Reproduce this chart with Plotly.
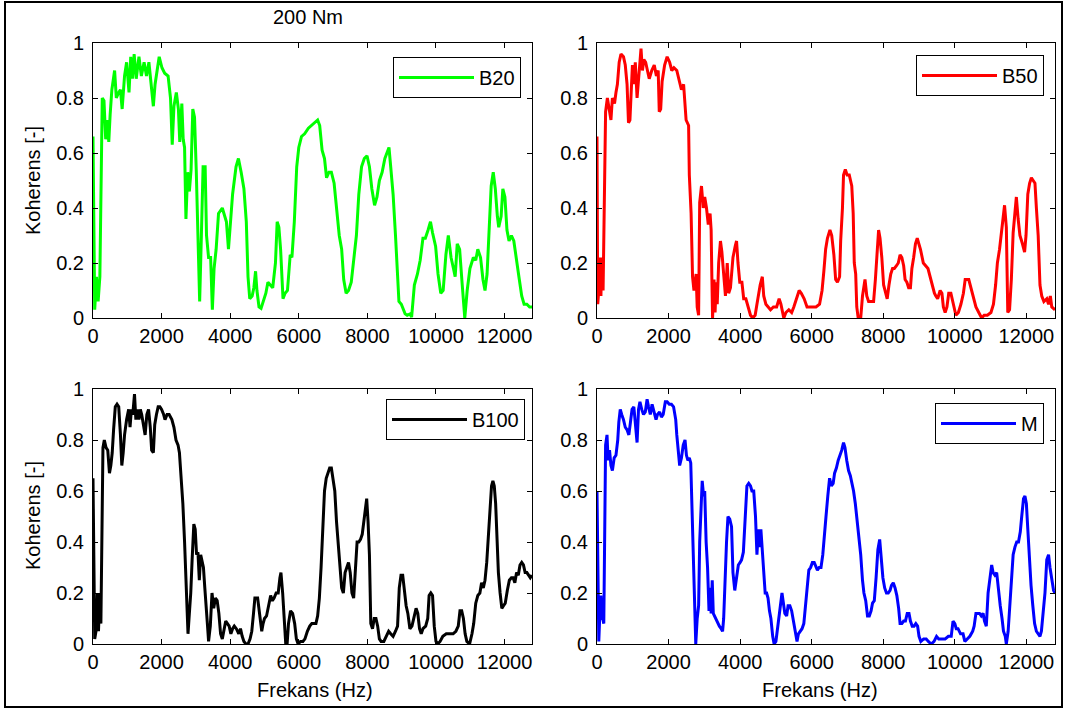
import plotly.graph_objects as go

# ---------------- data (frequency in Hz, coherence [-]) ----------------
f_b20 = [0, 20, 50, 100, 150, 200, 230, 270, 320, 370, 420, 460, 500, 550, 630, 680, 750, 800, 850, 920,
         980, 1050, 1100, 1150, 1200, 1260, 1340, 1410, 1490, 1560, 1630, 1710, 1760, 1810, 1860, 1930, 2010,
         2090, 2190, 2260, 2310, 2360, 2430, 2490, 2530, 2590, 2630, 2670, 2710, 2760, 2810, 2860, 2910, 2960,
         3010, 3060, 3110, 3160, 3210, 3270, 3310, 3370, 3430, 3480, 3530, 3590, 3660, 3770, 3820, 3890, 3950,
         4000, 4070, 4170, 4240, 4320, 4400, 4470, 4520, 4570, 4640, 4690, 4740, 4780, 4840, 4900, 4970, 5040,
         5100, 5170, 5240, 5320, 5370, 5420, 5470, 5540, 5600, 5670, 5750, 5800, 5870, 5940, 6000, 6080, 6170,
         6280, 6380, 6480, 6550, 6610, 6680, 6750, 6810, 6880, 6950, 7030, 7110, 7180, 7250, 7310, 7380, 7450,
         7530, 7610, 7680, 7750, 7830, 7910, 7990, 8060, 8130, 8210, 8280, 8350, 8430, 8510, 8580, 8630, 8680,
         8750, 8820, 8870, 8920, 8990, 9040, 9100, 9160, 9240, 9290, 9370, 9460, 9540, 9620, 9690, 9770, 9840,
         9900, 9990, 10060, 10140, 10210, 10290, 10360, 10440, 10510, 10560, 10620, 10690, 10760, 10840, 10910,
         10990, 11090, 11160, 11220, 11300, 11370, 11430, 11490, 11550, 11610, 11670, 11730, 11790, 11830, 11900,
         11950, 12010, 12070, 12130, 12200, 12270, 12350, 12430, 12500, 12570, 12650, 12730, 12800]
k_b20 = [0.66, 0.30, 0.03, 0.15, 0.06, 0.15, 0.50, 0.80, 0.79, 0.65, 0.72, 0.64, 0.74, 0.83, 0.90, 0.80, 0.82,
         0.83, 0.76, 0.88, 0.93, 0.82, 0.95, 0.87, 0.96, 0.87, 0.95, 0.88, 0.93, 0.88, 0.93, 0.82, 0.77, 0.85,
         0.90, 0.95, 0.91, 0.89, 0.88, 0.80, 0.63, 0.77, 0.82, 0.76, 0.64, 0.78, 0.65, 0.62, 0.36, 0.53, 0.46,
         0.54, 0.76, 0.73, 0.54, 0.25, 0.06, 0.30, 0.55, 0.55, 0.30, 0.22, 0.22, 0.03, 0.18, 0.25, 0.38, 0.40,
         0.38, 0.35, 0.25, 0.35, 0.45, 0.55, 0.58, 0.53, 0.47, 0.35, 0.15, 0.07, 0.08, 0.11, 0.17, 0.10, 0.04,
         0.035, 0.06, 0.09, 0.13, 0.12, 0.11, 0.20, 0.35, 0.33, 0.25, 0.07, 0.09, 0.10, 0.23, 0.22, 0.35, 0.55,
         0.62, 0.66, 0.67, 0.69, 0.70, 0.71, 0.72, 0.70, 0.61, 0.58, 0.51, 0.53, 0.53, 0.49, 0.40, 0.30, 0.25,
         0.14, 0.09, 0.10, 0.13, 0.22, 0.30, 0.45, 0.55, 0.58, 0.59, 0.55, 0.47, 0.41, 0.44, 0.50, 0.53, 0.58,
         0.60, 0.62, 0.55, 0.45, 0.30, 0.16, 0.06, 0.05, 0.03, 0.015, 0.01, 0.015, 0.003, 0.12, 0.16, 0.21, 0.29,
         0.29, 0.32, 0.35, 0.31, 0.26, 0.16, 0.09, 0.10, 0.23, 0.30, 0.22, 0.18, 0.15, 0.27, 0.25, 0.13, 0.0,
         0.10, 0.18, 0.22, 0.21, 0.25, 0.22, 0.14, 0.10, 0.16, 0.35, 0.48, 0.53, 0.47, 0.37, 0.33, 0.37, 0.47,
         0.44, 0.32, 0.28, 0.30, 0.28, 0.20, 0.14, 0.08, 0.05, 0.05, 0.04, 0.04]

f_b50 = [0, 20, 50, 80, 110, 130, 170, 200, 240, 290, 350, 390, 430, 490, 530, 570, 620, 670, 740, 790, 840,
         880, 920, 960, 990, 1030, 1070, 1120, 1160, 1200, 1230, 1270, 1310, 1360, 1410, 1460, 1530, 1600, 1660,
         1710, 1740, 1780, 1820, 1890, 1960, 2030, 2090, 2150, 2230, 2300, 2360, 2420, 2490, 2560, 2580, 2630,
         2670, 2710, 2770, 2800, 2840, 2870, 2920, 2970, 3010, 3060, 3110, 3160, 3190, 3210, 3230, 3270, 3300,
         3330, 3360, 3400, 3450, 3490, 3540, 3590, 3640, 3680, 3730, 3800, 3860, 3900, 3940, 3990, 4050, 4100,
         4160, 4230, 4290, 4350, 4420, 4470, 4520, 4560, 4620, 4660, 4720, 4790, 4850, 4930, 5020, 5090, 5140,
         5220, 5280, 5360, 5440, 5500, 5580, 5650, 5710, 5790, 5870, 5930, 6030, 6120, 6220, 6290, 6340, 6390,
         6440, 6510, 6560, 6620, 6670, 6720, 6780, 6810, 6860, 6890, 6940, 6990, 7050, 7120, 7160, 7190, 7230,
         7260, 7300, 7370, 7420, 7460, 7490, 7540, 7590, 7660, 7730, 7780, 7830, 7870, 7910, 7960, 8010, 8060,
         8110, 8160, 8210, 8260, 8310, 8370, 8420, 8470, 8520, 8570, 8610, 8660, 8710, 8760, 8800, 8850, 8900,
         8950, 9000, 9040, 9120, 9190, 9250, 9310, 9380, 9430, 9470, 9520, 9590, 9640, 9680, 9730, 9780, 9830,
         9890, 9930, 9980, 10030, 10100, 10170, 10240, 10290, 10390, 10450, 10530, 10590, 10670, 10750, 10820,
         10910, 11010, 11080, 11140, 11190, 11250, 11300, 11340, 11390, 11440, 11480, 11530, 11580, 11630, 11680,
         11720, 11770, 11820, 11890, 11950, 11990, 12040, 12090, 12140, 12190, 12240, 12280, 12330, 12380, 12430,
         12490, 12570, 12620, 12670, 12710, 12800]
k_b50 = [0.66, 0.05, 0.10, 0.22, 0.08, 0.22, 0.10, 0.45, 0.75, 0.80, 0.75, 0.72, 0.80, 0.78, 0.82, 0.85, 0.93,
         0.96, 0.95, 0.92, 0.85, 0.71, 0.72, 0.85, 0.92, 0.85, 0.93, 0.80, 0.88, 0.95, 0.98, 0.90, 0.94, 0.93,
         0.90, 0.87, 0.90, 0.92, 0.88, 0.90, 0.75, 0.76, 0.86, 0.92, 0.95, 0.93, 0.90, 0.91, 0.90, 0.86, 0.83,
         0.85, 0.72, 0.70, 0.52, 0.38, 0.15, 0.10, 0.16, 0.04, 0.01, 0.42, 0.48, 0.40, 0.44, 0.40, 0.34, 0.38,
         0.32, 0.15, 0.0, 0.14, 0.02, 0.13, 0.05, 0.20, 0.28, 0.24, 0.15, 0.08, 0.20, 0.09, 0.11, 0.22, 0.26,
         0.28, 0.20, 0.13, 0.13, 0.07, 0.07, 0.04, 0.01, 0.0, 0.01, 0.05, 0.10, 0.12, 0.15, 0.08, 0.05, 0.04,
         0.03, 0.04, 0.04, 0.07, 0.05, 0.0, 0.02, 0.03, 0.02, 0.04, 0.07, 0.10, 0.09, 0.07, 0.04, 0.04, 0.04,
         0.04, 0.05, 0.10, 0.17, 0.25, 0.29, 0.32, 0.30, 0.23, 0.14, 0.13, 0.15, 0.28, 0.40, 0.52, 0.54, 0.52,
         0.52, 0.48, 0.38, 0.20, 0.16, 0.04, 0.0, 0.0, 0.08, 0.12, 0.14, 0.08, 0.06, 0.06, 0.06, 0.14, 0.23,
         0.32, 0.29, 0.22, 0.12, 0.09, 0.07, 0.12, 0.16, 0.18, 0.18, 0.19, 0.20, 0.23, 0.22, 0.19, 0.14, 0.13,
         0.11, 0.11, 0.18, 0.22, 0.27, 0.29, 0.27, 0.25, 0.20, 0.19, 0.18, 0.15, 0.11, 0.09, 0.08, 0.07, 0.10,
         0.09, 0.04, 0.02, 0.04, 0.09, 0.09, 0.07, 0.04, 0.01, 0.02, 0.05, 0.09, 0.14, 0.14, 0.11, 0.08, 0.04,
         0.02, 0.0, 0.01, 0.01, 0.02, 0.05, 0.12, 0.20, 0.25, 0.30, 0.35, 0.41, 0.33, 0.02, 0.03, 0.14, 0.31,
         0.38, 0.44, 0.36, 0.30, 0.27, 0.24, 0.30, 0.45, 0.49, 0.51, 0.50, 0.49, 0.40, 0.30, 0.12, 0.08, 0.06,
         0.07, 0.05, 0.08, 0.04, 0.03]

f_b100 = [0, 20, 50, 100, 130, 160, 200, 230, 260, 290, 330, 380, 430, 480, 520, 560, 600, 650, 700, 750, 800,
          840, 880, 920, 980, 1040, 1080, 1120, 1160, 1210, 1250, 1300, 1340, 1380, 1420, 1470, 1520, 1570, 1620,
          1670, 1710, 1760, 1800, 1850, 1900, 1950, 2000, 2060, 2100, 2160, 2220, 2300, 2360, 2420, 2480, 2520,
          2570, 2620, 2670, 2710, 2740, 2770, 2800, 2850, 2890, 2940, 2980, 3020, 3060, 3100, 3140, 3180, 3220,
          3260, 3300, 3340, 3370, 3420, 3470, 3520, 3570, 3620, 3670, 3720, 3770, 3820, 3870, 3920, 3970, 4020,
          4070, 4120, 4180, 4250, 4300, 4350, 4400, 4460, 4520, 4580, 4630, 4680, 4720, 4800, 4860, 4920, 4960,
          5000, 5060, 5120, 5180, 5230, 5280, 5340, 5400, 5450, 5480, 5530, 5580, 5620, 5660, 5700, 5760, 5820,
          5880, 5930, 5980, 6050, 6120, 6180, 6250, 6320, 6380, 6450, 6500, 6550, 6600, 6650, 6700, 6750, 6800,
          6850, 6900, 6950, 7000, 7050, 7100, 7150, 7200, 7250, 7300, 7350, 7400, 7450, 7500, 7550, 7600, 7650,
          7700, 7750, 7800, 7850, 7900, 7950, 7980, 8020, 8060, 8100, 8150, 8200, 8250, 8300, 8350, 8400, 8480,
          8550, 8620, 8680, 8750, 8820, 8880, 8930, 8980, 9030, 9080, 9130, 9180, 9240, 9300, 9370, 9420, 9470,
          9520, 9570, 9620, 9700, 9760, 9800, 9850, 9900, 9950, 10000, 10050, 10120, 10200, 10300, 10400, 10500,
          10580, 10650, 10700, 10750, 10800, 10850, 10900, 10980, 11050, 11100, 11160, 11220, 11280, 11330,
          11380, 11430, 11480, 11530, 11580, 11620, 11660, 11700, 11740, 11780, 11820, 11870, 11920, 11970, 12020,
          12080, 12140, 12200, 12250, 12300, 12350, 12400, 12450, 12500, 12550, 12600, 12650, 12700, 12750,
          12800]
k_b100 = [0.65, 0.40, 0.02, 0.06, 0.20, 0.05, 0.20, 0.08, 0.40, 0.77, 0.80, 0.77, 0.76, 0.67, 0.70, 0.75, 0.84,
          0.93, 0.94, 0.93, 0.82, 0.70, 0.75, 0.82, 0.88, 0.92, 0.85, 0.92, 0.90, 0.98, 0.88, 0.92, 0.88, 0.92,
          0.90, 0.85, 0.82, 0.90, 0.92, 0.85, 0.76, 0.75, 0.86, 0.90, 0.93, 0.93, 0.92, 0.90, 0.88, 0.90, 0.90,
          0.88, 0.85, 0.80, 0.78, 0.75, 0.65, 0.55, 0.40, 0.26, 0.08, 0.04, 0.10, 0.20, 0.33, 0.47, 0.45, 0.35,
          0.36, 0.25, 0.35, 0.33, 0.30, 0.22, 0.16, 0.07, 0.01, 0.07, 0.20, 0.14, 0.18, 0.17, 0.12, 0.04, 0.02,
          0.06, 0.09, 0.08, 0.07, 0.04, 0.06, 0.07, 0.06, 0.04, 0.06, 0.03, 0.01, 0.0, 0.0, 0.02, 0.05, 0.12,
          0.18, 0.18, 0.12, 0.05, 0.08, 0.10, 0.11, 0.15, 0.19, 0.17, 0.18, 0.20, 0.20, 0.26, 0.28, 0.20, 0.06,
          0.0, 0.0, 0.08, 0.13, 0.12, 0.08, 0.02, 0.0, 0.01, 0.01, 0.02, 0.05, 0.07, 0.08, 0.08, 0.08, 0.11,
          0.18, 0.30, 0.48, 0.60, 0.65, 0.67, 0.69, 0.69, 0.65, 0.60, 0.48, 0.38, 0.30, 0.22, 0.20, 0.28, 0.30,
          0.32, 0.28, 0.20, 0.18, 0.32, 0.40, 0.40, 0.41, 0.43, 0.48, 0.54, 0.57, 0.48, 0.35, 0.08, 0.06, 0.10,
          0.10, 0.07, 0.02, 0.01, 0.01, 0.03, 0.05, 0.04, 0.03, 0.05, 0.07, 0.22, 0.27, 0.27, 0.20, 0.15, 0.12,
          0.06, 0.07, 0.11, 0.14, 0.12, 0.06, 0.04, 0.06, 0.07, 0.10, 0.19, 0.20, 0.19, 0.07, 0.01, 0.0, 0.01,
          0.03, 0.04, 0.04, 0.04, 0.05, 0.07, 0.13, 0.13, 0.10, 0.04, 0.01, 0.0, 0.04, 0.08, 0.16, 0.19, 0.20,
          0.24, 0.22, 0.25, 0.32, 0.42, 0.55, 0.62, 0.64, 0.62, 0.55, 0.40, 0.28, 0.20, 0.14, 0.15, 0.16, 0.21,
          0.25, 0.26, 0.26, 0.24, 0.28, 0.27, 0.31, 0.32, 0.31, 0.28, 0.28, 0.27, 0.26, 0.27]

f_m = [0, 20, 50, 80, 110, 130, 160, 190, 210, 240, 280, 310, 350, 390, 430, 480, 530, 580, 610, 650, 690,
       740, 790, 840, 890, 930, 980, 1030, 1080, 1120, 1160, 1200, 1250, 1300, 1350, 1400, 1440, 1490, 1540,
       1600, 1650, 1690, 1750, 1800, 1850, 1910, 1960, 2020, 2080, 2140, 2200, 2230, 2270, 2310, 2360, 2410,
       2460, 2500, 2540, 2580, 2620, 2660, 2700, 2730, 2760, 2800, 2840, 2870, 2910, 2940, 2980, 3010, 3050,
       3090, 3130, 3160, 3190, 3220, 3250, 3280, 3320, 3370, 3420, 3470, 3510, 3540, 3580, 3620, 3660, 3710,
       3760, 3800, 3850, 3900, 3950, 4000, 4040, 4090, 4140, 4190, 4240, 4290, 4330, 4380, 4430, 4470, 4510,
       4550, 4580, 4620, 4660, 4700, 4740, 4780, 4820, 4860, 4910, 4950, 5000, 5040, 5080, 5130, 5170, 5210,
       5250, 5300, 5340, 5390, 5440, 5490, 5540, 5590, 5630, 5680, 5730, 5780, 5830, 5870, 5920, 5970, 6020,
       6070, 6120, 6160, 6210, 6260, 6310, 6360, 6400, 6450, 6500, 6550, 6600, 6640, 6690, 6740, 6790, 6840,
       6890, 6930, 6980, 7030, 7080, 7130, 7170, 7220, 7270, 7320, 7370, 7420, 7460, 7510, 7560, 7610, 7660,
       7700, 7750, 7800, 7850, 7900, 7940, 7990, 8040, 8090, 8140, 8190, 8230, 8280, 8330, 8380, 8430, 8470,
       8520, 8570, 8620, 8670, 8720, 8760, 8810, 8860, 8910, 8960, 9000, 9050, 9130, 9200, 9260, 9340, 9420,
       9490, 9550, 9630, 9730, 9820, 9900, 9950, 10000, 10040, 10090, 10160, 10230, 10280, 10350, 10420, 10500,
       10540, 10590, 10640, 10690, 10740, 10790, 10830, 10880, 10930, 10980, 11030, 11070, 11120, 11170, 11220,
       11270, 11320, 11360, 11410, 11440, 11490, 11540, 11590, 11630, 11680, 11730, 11780, 11830, 11870, 11920,
       11960, 12000, 12040, 12090, 12130, 12180, 12230, 12280, 12330, 12380, 12420, 12470, 12520, 12570, 12620,
       12660, 12710, 12760, 12800]
k_m = [0.60, 0.20, 0.01, 0.12, 0.19, 0.10, 0.10, 0.08, 0.45, 0.78, 0.82, 0.72, 0.76, 0.70, 0.68, 0.73, 0.74,
       0.80, 0.87, 0.92, 0.90, 0.88, 0.85, 0.84, 0.82, 0.87, 0.92, 0.93, 0.83, 0.79, 0.92, 0.95, 0.92, 0.90,
       0.91, 0.96, 0.93, 0.90, 0.94, 0.91, 0.88, 0.90, 0.91, 0.89, 0.90, 0.95, 0.95, 0.94, 0.94, 0.93, 0.88,
       0.82, 0.75, 0.70, 0.73, 0.78, 0.80, 0.74, 0.72, 0.73, 0.71, 0.50, 0.40, 0.15, 0.0, 0.10, 0.15, 0.40,
       0.58, 0.64, 0.58, 0.60, 0.40, 0.30, 0.13, 0.22, 0.12, 0.25, 0.12, 0.11, 0.10, 0.08, 0.07, 0.06, 0.05,
       0.10, 0.30, 0.40, 0.50, 0.49, 0.46, 0.28, 0.21, 0.27, 0.31, 0.32, 0.33, 0.36, 0.50, 0.62, 0.63, 0.62,
       0.60, 0.60, 0.50, 0.35, 0.45, 0.38, 0.45, 0.36, 0.28, 0.20, 0.20, 0.18, 0.13, 0.10, 0.03, 0.0, 0.01,
       0.05, 0.10, 0.16, 0.20, 0.16, 0.12, 0.11, 0.15, 0.15, 0.13, 0.09, 0.04, 0.01, 0.04, 0.05, 0.06, 0.08,
       0.15, 0.22, 0.29, 0.30, 0.32, 0.32, 0.30, 0.29, 0.30, 0.30, 0.35, 0.42, 0.50, 0.58, 0.65, 0.62, 0.63,
       0.67, 0.69, 0.72, 0.74, 0.76, 0.79, 0.77, 0.72, 0.68, 0.66, 0.63, 0.60, 0.55, 0.48, 0.42, 0.35, 0.25,
       0.20, 0.17, 0.11, 0.11, 0.13, 0.16, 0.17, 0.26, 0.37, 0.41, 0.35, 0.26, 0.22, 0.20, 0.20, 0.21, 0.23,
       0.24, 0.22, 0.19, 0.14, 0.08, 0.08, 0.09, 0.09, 0.12, 0.12, 0.09, 0.07, 0.07, 0.08, 0.07, 0.03, 0.01,
       0.02, 0.02, 0.01, 0.0, 0.01, 0.03, 0.02, 0.02, 0.02, 0.03, 0.03, 0.09, 0.08, 0.06, 0.06, 0.04, 0.04,
       0.01, 0.02, 0.03, 0.05, 0.07, 0.12, 0.12, 0.12, 0.11, 0.12, 0.09, 0.07, 0.20, 0.26, 0.31, 0.28, 0.27,
       0.28, 0.20, 0.15, 0.10, 0.05, 0.03, 0.0, 0.05, 0.15, 0.25, 0.35, 0.38, 0.40, 0.40, 0.44, 0.50, 0.57,
       0.58, 0.55, 0.45, 0.30, 0.23, 0.15, 0.08, 0.05, 0.04, 0.03, 0.05, 0.13, 0.20, 0.33, 0.35, 0.30, 0.25,
       0.21, 0.20]

series_names = ["B20", "B50", "B100", "M"]
series_colors = ["#00FF00", "#FF0000", "#000000", "#0000FF"]
x_ticks = [0, 2000, 4000, 6000, 8000, 10000, 12000]
x_ticktext = ["0", "2000", "4000", "6000", "8000", "10000", "12000"]
y_ticks = [0, 0.2, 0.4, 0.6, 0.8, 1]
y_ticktext = ["0", "0.2", "0.4", "0.6", "0.8", "1"]
title_text = "200 Nm"
x_label = "Frekans (Hz)"
y_label = "Koherens [-]"

# ---------------- figure ----------------
W, H = 1066, 711
FONT = "Liberation Sans, Arial, sans-serif"
FS = 20

def px(x):
    return x / W

def py(y):
    return 1 - y / H

# axes boxes in pixels (left, right, top, bottom)
boxes = [(93, 532, 43, 318), (597, 1055, 43, 318), (93, 532, 389, 644), (597, 1055, 389, 644)]
legend_pos = [(521, 57), (1044, 55), (525, 399), (1044, 403)]

fig = go.Figure()
data = [(f_b20, k_b20), (f_b50, k_b50), (f_b100, k_b100), (f_m, k_m)]
for i, ((f, k), name, col) in enumerate(zip(data, series_names, series_colors)):
    sfx = "" if i == 0 else str(i + 1)
    fig.add_trace(go.Scatter(x=f, y=k, mode="lines", name=name,
                             line=dict(color=col, width=3),
                             xaxis="x" + sfx, yaxis="y" + sfx,
                             legend="legend" + sfx, showlegend=True))

layout = dict(width=W, height=H, margin=dict(l=0, r=0, t=0, b=0),
              paper_bgcolor="white", plot_bgcolor="white",
              font=dict(family=FONT, size=FS, color="black"))

axis_common = dict(showline=True, linecolor="black", linewidth=1, mirror="allticks",
                   ticks="inside", ticklen=5, tickcolor="black", tickwidth=1,
                   showgrid=False, zeroline=False, automargin=False,
                   tickfont=dict(family=FONT, size=FS, color="black"))

for i, (l, r, t, b) in enumerate(boxes):
    sfx = "" if i == 0 else str(i + 1)
    layout["xaxis" + sfx] = dict(axis_common, domain=[px(l), px(r)], range=[0, 12800],
                                 tickmode="array", tickvals=x_ticks, ticktext=x_ticktext,
                                 anchor="y" + sfx)
    layout["yaxis" + sfx] = dict(axis_common, domain=[py(b), py(t)], range=[0, 1],
                                 tickmode="array", tickvals=y_ticks, ticktext=y_ticktext,
                                 anchor="x" + sfx, ticklabelstandoff=4)
    lx, ly = legend_pos[i]
    layout["legend" + sfx] = dict(x=px(lx), y=py(ly), xanchor="right", yanchor="top",
                                  bgcolor="white", bordercolor="black", borderwidth=1,
                                  font=dict(family=FONT, size=FS, color="black"),
                                  itemwidth=75)

fig.update_layout(**layout)

ann_common = dict(xref="paper", yref="paper", showarrow=False, xanchor="center", yanchor="middle",
                  font=dict(family=FONT, size=FS, color="black"))
annotations = [
    dict(ann_common, text=title_text, x=px(308), y=py(17)),
    dict(ann_common, text=y_label, x=px(33), y=py(181), textangle=-90),
    dict(ann_common, text=y_label, x=px(33), y=py(516), textangle=-90),
    dict(ann_common, text=x_label, x=px(315), y=py(690)),
    dict(ann_common, text=x_label, x=px(820), y=py(690)),
]
fig.update_layout(annotations=annotations)

# figure frame
fig.add_shape(type="rect", xref="paper", yref="paper",
              x0=px(5), x1=px(1062), y0=py(707), y1=py(2),
              line=dict(color="black", width=2), fillcolor="rgba(0,0,0,0)", layer="above")

fig.write_html("out.html")
